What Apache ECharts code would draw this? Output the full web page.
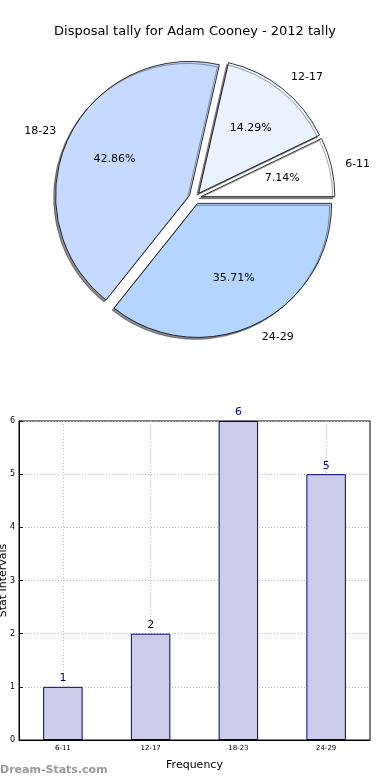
<!DOCTYPE html>
<html>
<head>
<meta charset="utf-8">
<script src="https://cdn.jsdelivr.net/npm/echarts@6/dist/echarts.min.js"></script>
<style>html,body{margin:0;padding:0;background:#fff}#c{width:390px;height:780px}</style>
</head>
<body>
<div id="c"></div>
<script>
const titleText = 'Disposal tally for Adam Cooney - 2012 tally';
const categories = ['6-11', '12-17', '18-23', '24-29'];
const values = [1, 2, 6, 5];
const sliceColors = ['#ffffff', '#eaf2ff', '#c6d9ff', '#b3d5ff'];
const yTicks = [0, 1, 2, 3, 4, 5, 6];
const xName = 'Frequency';
const yName = 'Stat Intervals';
const watermark = 'Dream-Stats.com';

const total = values.reduce((a, b) => a + b, 0);
const FONT = 'DejaVu Sans';
const R = 134;
const CENTER = [195, 198];
const OFFSET = 6;

const pieMain = categories.map((c, i) => ({
  name: c, value: values[i], selected: true,
  itemStyle: { color: sliceColors[i] }
}));
const pieLabels = categories.map((c, i) => ({
  name: c, value: values[i], selected: true
}));

const chart = echarts.init(document.getElementById('c'), null, { renderer: 'canvas' });
chart.setOption({
  animation: false,
  backgroundColor: '#fff',
  title: {
    text: titleText, left: 'center', top: 20,
    textStyle: { fontFamily: FONT, fontSize: 13, fontWeight: 'normal', color: '#000' }
  },
  grid: {
    left: 19, right: 20, top: 421, bottom: 40,
    containLabel: false, outerBoundsMode: 'none',
    show: true, borderColor: '#000', borderWidth: 1, backgroundColor: 'transparent'
  },
  xAxis: {
    type: 'category', data: categories,
    name: xName, nameLocation: 'middle', nameGap: 20, nameMoveOverlap: false,
    nameTextStyle: { fontFamily: FONT, fontSize: 11, color: '#000' },
    axisLine: { lineStyle: { color: '#000', width: 1 } },
    axisTick: { show: true, alignWithLabel: true, inside: true, length: 4, lineStyle: { color: '#000' } },
    axisLabel: { fontFamily: FONT, fontSize: 7, color: '#000', margin: 5 },
    splitLine: { show: true, alignWithLabel: true, lineStyle: { color: '#bbb', type: [1, 2], width: 1 } }
  },
  yAxis: {
    type: 'value', min: 0, max: 6, interval: 1,
    name: yName, nameLocation: 'middle', nameGap: 10, nameMoveOverlap: false,
    nameTextStyle: { fontFamily: FONT, fontSize: 11, color: '#000' },
    axisLine: { show: true, lineStyle: { color: '#000', width: 1 } },
    axisTick: { show: true, inside: true, length: 4, lineStyle: { color: '#000' } },
    axisLabel: { fontFamily: FONT, fontSize: 8, color: '#000', margin: 4,
      formatter: v => yTicks.includes(v) ? String(v) : '' },
    splitLine: { show: true, lineStyle: { color: '#bbb', type: [1, 2], width: 1 } }
  },
  series: [
    {
      type: 'pie', radius: [0, R], center: CENTER,
      startAngle: 0, clockwise: false,
      selectedMode: 'multiple', selectedOffset: OFFSET,
      silent: true,
      itemStyle: { borderColor: '#000', borderWidth: 0.8,
        shadowBlur: 0, shadowOffsetX: -2, shadowOffsetY: 2, shadowColor: 'rgba(0,0,0,0.45)' },
      label: { show: true, position: 'outside', formatter: '{b}',
        fontFamily: FONT, fontSize: 11, color: '#000', distanceToLabelLine: 0 },
      labelLine: { show: false, length: 14, length2: 0 },
      emphasis: { disabled: true },
      data: pieMain
    },
    {
      type: 'pie', radius: [R * 0.2, R], center: CENTER,
      startAngle: 0, clockwise: false,
      selectedMode: 'multiple', selectedOffset: OFFSET,
      silent: true,
      itemStyle: { color: 'transparent', borderWidth: 0 },
      label: { show: true, position: 'inside', fontFamily: FONT, fontSize: 11, color: '#000',
        formatter: p => (p.value / total * 100).toFixed(2) + '%' },
      labelLine: { show: false },
      emphasis: { disabled: true },
      data: pieLabels
    },
    {
      type: 'bar', data: values, barWidth: '45%',
      itemStyle: { color: '#ccccea', borderColor: '#000080', borderWidth: 1 },
      label: { show: true, position: 'top', distance: 3, fontFamily: FONT, fontSize: 11, color: '#000080' },
      emphasis: { disabled: true }
    }
  ],
  graphic: [{
    type: 'text', left: 0, top: 765,
    style: { text: watermark, fontFamily: FONT, fontSize: 11, fontWeight: 'bold', fill: '#9a9a9a' }
  }]
});
</script>
</body>
</html>
